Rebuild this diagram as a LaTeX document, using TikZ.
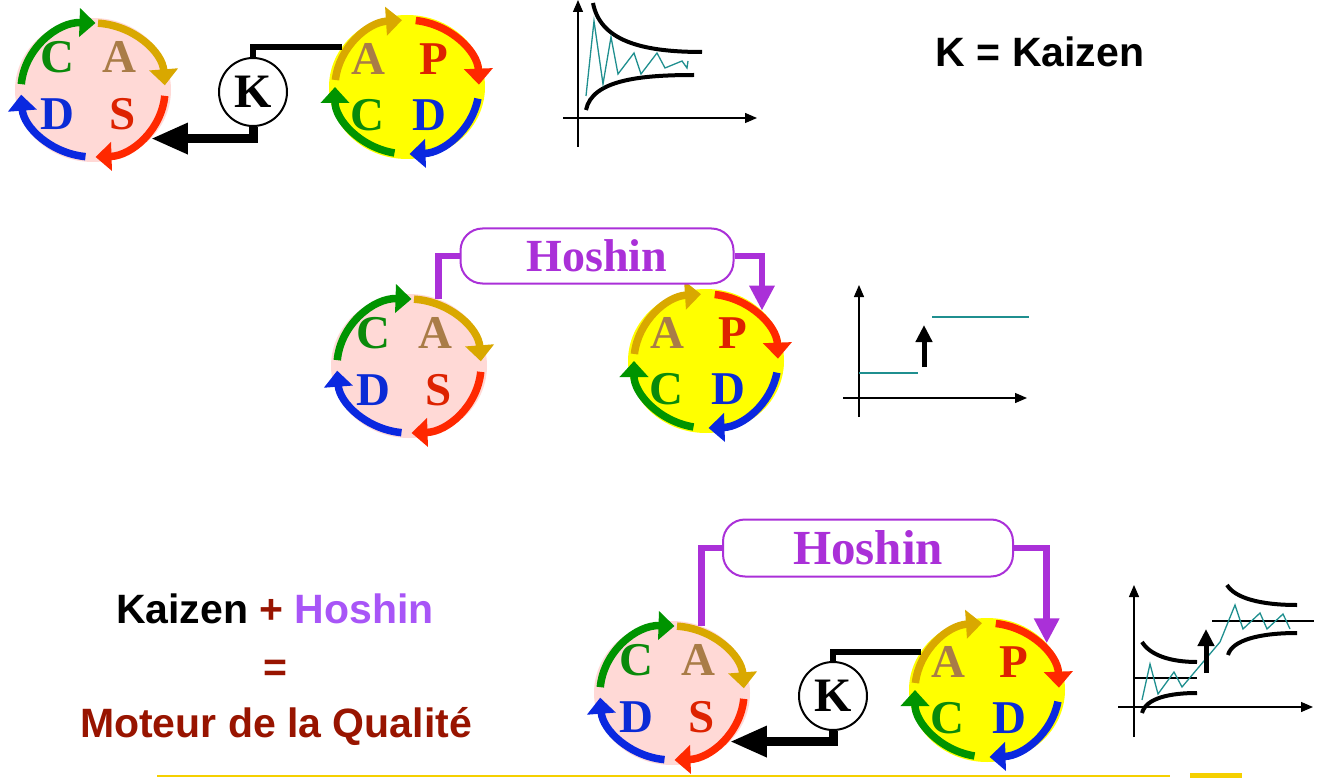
\documentclass[tikz,border=0pt]{standalone}
\usepackage{fontspec}
\setmainfont{Liberation Serif}
\newfontfamily\headsans{Liberation Sans}
\usetikzlibrary{arrows.meta, shapes.geometric}

\definecolor{pinkfill}{HTML}{FFD9D6}
\definecolor{yellowfill}{HTML}{FFFF00}
\definecolor{arcgreen}{HTML}{009400}
\definecolor{arcgold}{HTML}{D9A800}
\definecolor{arcred}{HTML}{FF2800}
\definecolor{arcblue}{HTML}{0A28E0}
\definecolor{letgreen}{HTML}{0A8A0A}
\definecolor{letbrown}{HTML}{A97C47}
\definecolor{letred}{HTML}{DD2200}
\definecolor{letblue}{HTML}{0A2BD6}
\definecolor{hoshin}{HTML}{AA30D8}
\definecolor{hoshinlight}{HTML}{A855F7}
\definecolor{motred}{HTML}{981400}
\definecolor{tracecol}{HTML}{1F8F8F}
\definecolor{footgold}{HTML}{F5D000}

% pink wheel: C A / D S
\newcommand{\pinkwheel}[2]{%
  \node[disc, fill=pinkfill] (#1) at (#2) {};
  \draw[cyc, arcgreen] ([shift={(185:72 and 67)}]#1.center) arc[start angle=185, end angle=272, x radius=72, y radius=67];
  \draw[cyc, arcgold]  ([shift={(274:72 and 67)}]#1.center) arc[start angle=274, end angle=356, x radius=72, y radius=67];
  \draw[cyc, arcred]   ([shift={(5:72 and 67)}]#1.center) arc[start angle=5, end angle=88, x radius=72, y radius=67];
  \draw[cyc, arcblue]  ([shift={(96:72 and 67)}]#1.center) arc[start angle=96, end angle=176, x radius=72, y radius=67];
  \node[wlet, text=letgreen] (#1-c) at ([shift={(-36,-33)}]#1.center) {C};
  \node[wlet, text=letbrown] (#1-a) at ([shift={(26,-33)}]#1.center) {A};
  \node[wlet, text=letblue]  (#1-d) at ([shift={(-36,24)}]#1.center) {D};
  \node[wlet, text=letred]   (#1-s) at ([shift={(30,24)}]#1.center) {S};
}

% yellow wheel: A P / C D
\newcommand{\yellowwheel}[2]{%
  \node[disc, fill=yellowfill] (#1) at (#2) {};
  \draw[cyc, arcgold]  ([shift={(186:72 and 67)}]#1.center) arc[start angle=186, end angle=266, x radius=72, y radius=67];
  \draw[cyc, arcred]   ([shift={(277:72 and 67)}]#1.center) arc[start angle=277, end angle=358, x radius=72, y radius=67];
  \draw[cyc, arcblue]  ([shift={(10:72 and 67)}]#1.center) arc[start angle=10, end angle=88, x radius=72, y radius=67];
  \draw[cyc, arcgreen] ([shift={(100:72 and 67)}]#1.center) arc[start angle=100, end angle=180, x radius=72, y radius=67];
  \node[wlet, text=letbrown] (#1-a) at ([shift={(-39,-28)}]#1.center) {A};
  \node[wlet, text=letred]   (#1-p) at ([shift={(27,-28)}]#1.center) {P};
  \node[wlet, text=letgreen] (#1-c) at ([shift={(-40,28)}]#1.center) {C};
  \node[wlet, text=letblue]  (#1-d) at ([shift={(22,28)}]#1.center) {D};
}

\begin{document}
\begin{tikzpicture}[
    x=1pt, y=-1pt,
    disc/.style={ellipse, minimum width=156pt, minimum height=144pt, inner sep=0pt},
    cyc/.style={line width=7.5pt, -{Triangle[length=16pt,width=28pt]}},
    wlet/.style={font=\bfseries\fontsize{47}{47}\selectfont, inner sep=0pt},
    kbubble/.style={circle, draw, line width=2pt, fill=white, minimum size=68pt,
                    inner sep=0pt, font=\bfseries\fontsize{48}{48}\selectfont},
    kthin/.style={line width=6pt},
    kthick/.style={line width=9pt, -{Triangle[length=37pt,width=29pt]}},
    hbox/.style={draw=hoshin, line width=2pt, rounded corners=22pt, fill=white,
                 text=hoshin, inner sep=0pt},
    hlink/.style={hoshin, line width=6.5pt},
    hflow/.style={hoshin, line width=6.5pt, -{Triangle[length=25pt,width=24pt]}},
    axis/.style={line width=1.3pt, -{Triangle[length=12pt,width=10pt]}},
    env/.style={line width=4pt},
    trace/.style={tracecol, line width=1.3pt},
    level/.style={line width=1.3pt},
    jump/.style={line width=5pt, -{Triangle[length=17pt,width=16pt]}},
    big/.style={font=\headsans\bfseries\fontsize{41}{41}\selectfont, inner sep=0pt, anchor=base},
]
\useasboundingbox (0,0) rectangle (1320,778);

% ---- Row 1 : Kaizen ------------------------------------------------------------
\pinkwheel{p1}{93,90}
\yellowwheel{y1}{407,87}
\node[kbubble] (k1) at (253,92) {K};
\draw[kthin] (y1.148) -| (k1.north);
\draw[kthick] (k1.south) |- (p1.-40);

\draw[axis] (578,147) -- (578,0);
\draw[axis] (563,118) -- (757,118);
\draw[env] (593,3) .. controls (600,40) and (640,52) .. (702,52);
\draw[env] (586,110) .. controls (592,80) and (640,75) .. (694,75);
\draw[trace] (586,96) -- (594,21) -- (603,84) -- (611,37) -- (618,74) -- (634,53)
   -- (641,74) -- (657,53) -- (665,68) -- (682,61) -- (687,68) -- (688,61);

\node[big] (kdef) at (1040,67) {K = Kaizen};

% ---- Row 2 : Hoshin ------------------------------------------------------------
\pinkwheel{p2}{409,366}
\yellowwheel{y2}{706,361}
\node[hbox, minimum width=273pt, minimum height=55pt,
      font=\bfseries\fontsize{46}{46}\selectfont] (h2) at (597,256) {Hoshin};
\draw[hlink] (p2.66) |- (h2.west);
\draw[hflow] (h2.east) -| (y2.42);

\draw[axis] (859,417) -- (859,285);
\draw[axis] (843,398) -- (1027,398);
\draw[trace] (859,373) -- (918,373);
\draw[trace] (932,317) -- (1029,317);
\draw[jump] (924,367) -- (924,325);

% ---- Row 3 : Kaizen + Hoshin ---------------------------------------------------
\pinkwheel{p3}{672,693}
\yellowwheel{y3}{987,690}
\node[hbox, minimum width=290pt, minimum height=57pt,
      font=\bfseries\fontsize{49}{49}\selectfont] (h3) at (868,548) {Hoshin};
\draw[hlink] (p3.66) |- (h3.west);
\draw[hflow] (h3.east) -| (y3.38);
\node[kbubble] (k3) at (833,696) {K};
\draw[kthin] (y3.150) -| (k3.north);
\draw[kthick] (k3.south) |- (p3.-40);

\draw[axis] (1134,737) -- (1134,585);
\draw[axis] (1118,707) -- (1313,707);
\draw[level] (1134,678) -- (1197,678);
\draw[level] (1212,621) -- (1314,621);
\draw[env] (1142,642) .. controls (1150,655) and (1170,662) .. (1197,662);
\draw[env] (1142,713) .. controls (1146,698) and (1170,693) .. (1197,693);
\draw[env] (1227,585) .. controls (1235,598) and (1260,605) .. (1297,605);
\draw[env] (1228,655) .. controls (1232,640) and (1260,633) .. (1297,633);
\draw[trace] (1142,700) -- (1150,664) -- (1158,694) -- (1174,672) -- (1182,687)
   -- (1220,642) -- (1235,605) -- (1243,629) -- (1260,613) -- (1267,629)
   -- (1283,614) -- (1290,629);
\draw[jump] (1206,673) -- (1206,629);

\node[big] (sum) at (275,623) {Kaizen \textcolor{motred}{+} \textcolor{hoshinlight}{Hoshin}};
\node[big, text=motred] (eq) at (275,681) {=};
\node[big, text=motred] (motor) at (276,737) {Moteur de la Qualité};

% ---- footer -------------------------------------------------------------------
\draw[footgold, line width=2pt] (157,776) -- (1170,776);
\fill[footgold] (1190,773) rectangle (1242,778);

\end{tikzpicture}
\end{document}
